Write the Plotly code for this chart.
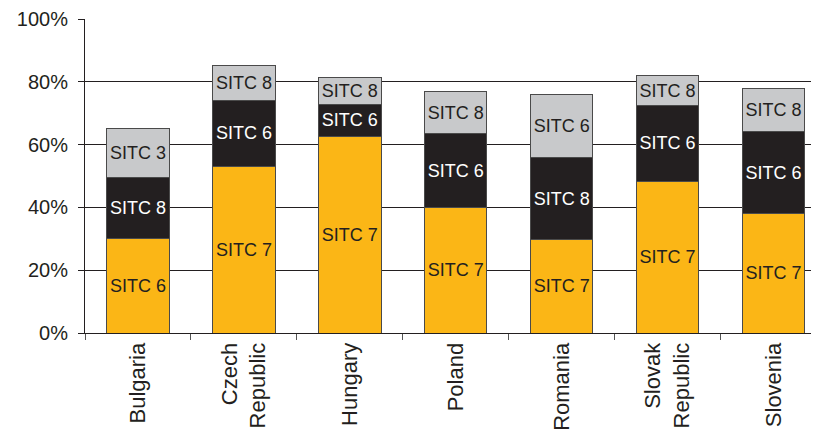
import plotly.graph_objects as go

countries = ["Bulgaria", "Czech<br>Republic", "Hungary", "Poland",
             "Romania", "Slovak<br>Republic", "Slovenia"]

bottom_share = [30.2, 53.0, 62.5, 40.1, 29.8, 48.4, 38.0]
bottom_label = ["SITC 6", "SITC 7", "SITC 7", "SITC 7", "SITC 7", "SITC 7", "SITC 7"]

middle_share = [19.4, 21.2, 10.4, 23.3, 26.0, 24.0, 26.1]
middle_label = ["SITC 8", "SITC 6", "SITC 6", "SITC 6", "SITC 8", "SITC 6", "SITC 6"]

top_share = [15.5, 11.0, 8.6, 13.4, 20.2, 9.5, 13.7]
top_label = ["SITC 3", "SITC 8", "SITC 8", "SITC 8", "SITC 6", "SITC 8", "SITC 8"]

y_ticks = [0, 20, 40, 60, 80, 100]
y_tick_text = ["0%", "20%", "40%", "60%", "80%", "100%"]

FONT = "Liberation Sans, Arial, sans-serif"


def stack(vals, labels, fill, txt):
    return go.Bar(
        x=countries, y=vals, text=labels,
        textposition="inside", insidetextanchor="middle", textangle=0,
        textfont=dict(family=FONT, size=18, color=txt),
        marker=dict(color=fill, line=dict(color="#4a4a4a", width=1)),
        hoverinfo="x+y", showlegend=False,
    )


fig = go.Figure()
fig.add_trace(stack(bottom_share, bottom_label, "#FBB616", "#231F20"))
fig.add_trace(stack(middle_share, middle_label, "#231F20", "#FFFFFF"))
fig.add_trace(stack(top_share, top_label, "#C8C9CB", "#231F20"))

# page has an 8px body margin, so the figure is 8px smaller than the window
fig.update_layout(
    width=811, height=424,
    margin=dict(l=77, r=0, t=11, b=99),
    barmode="stack", bargap=0.41,
    paper_bgcolor="white", plot_bgcolor="white",
    font=dict(family=FONT, size=20, color="#231F20"),
    uniformtext=dict(minsize=18, mode="show"),
)
fig.update_yaxes(
    range=[0, 100], tickvals=y_ticks, ticktext=y_tick_text,
    showgrid=True, gridcolor="#231F20", gridwidth=1,
    showline=True, linecolor="#231F20", linewidth=1,
    ticks="outside", ticklen=6, tickcolor="#231F20",
    tickfont=dict(size=20), ticklabelstandoff=6,
    zeroline=False, fixedrange=True,
)
# the original plot runs a little past the right edge of the picture
fig.update_xaxes(
    range=[-0.5, 6.43],
    tickangle=-90, tickson="boundaries",
    showline=True, linecolor="#231F20", linewidth=1,
    ticks="outside", ticklen=6, tickcolor="#555555",
    tickfont=dict(size=22),
    fixedrange=True,
)

fig.write_html("out.html")
